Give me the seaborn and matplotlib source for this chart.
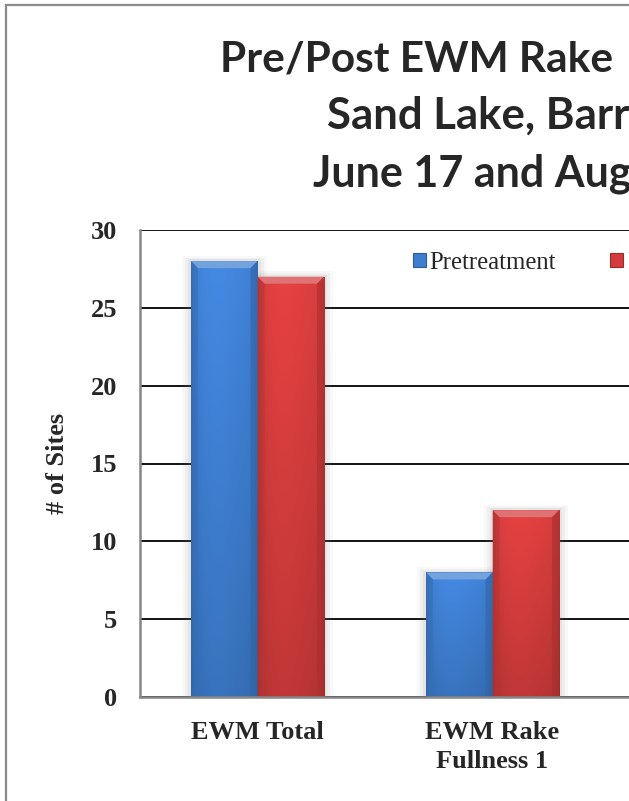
import numpy as np
import pandas as pd
import matplotlib
matplotlib.use("Agg")
import matplotlib.pyplot as plt
from matplotlib.patches import Rectangle, Polygon, Patch
import seaborn as sns

# ---- data -------------------------------------------------------------
categories = ["EWM Total", "EWM Rake\nFullness 1"]
series_names = ["Pretreatment", "Posttreatment"]
pretreatment = [28, 8]
posttreatment = [27, 12]
y_ticks = [0, 5, 10, 15, 20, 25, 30]
title_lines = ["Pre/Post EWM Rake", "Sand Lake, Barron", "June 17 and August"]

# ---- style ------------------------------------------------------------
W, H = 629, 801
BLUE = "#3E7ED0"
RED = "#D33C3C"
AXIS_GRAY = "#868686"

sns.set_style("white")
plt.rcParams["font.family"] = ["Liberation Serif", "DejaVu Serif"]


def fx(x):
    return x / W


def fy(y):
    return 1 - y / H


fig = plt.figure(figsize=(W / 100, H / 100), dpi=100)
fig.patch.set_facecolor("white")

# plot area: left edge at x=140px, runs off the right side of the canvas
ax_left, ax_top, ax_bottom = 140, 230, 697
ax = fig.add_axes([fx(ax_left), fy(ax_bottom), (W - ax_left) / W, (ax_bottom - ax_top) / H])

df = pd.DataFrame({
    "category": categories * 2,
    "series": [s for s in series_names for _ in categories],
    "sites": pretreatment + posttreatment,
})

sns.barplot(data=df, x="category", y="sites", hue="series",
            palette=[BLUE, RED], width=0.566, gap=0, saturation=1,
            legend=False, ax=ax, zorder=2, linewidth=0)

px_per_unit_x = 235.0
ax.set_xlim(-0.5, -0.5 + (W - ax_left) / px_per_unit_x)
ax.set_ylim(0, 30)
px_per_unit_y = (ax_bottom - ax_top) / 30.0

bars = list(ax.patches)


def lighten(c, amt):
    c = np.array(c[:3])
    return tuple(c + (1 - c) * amt)


def darken(c, amt):
    c = np.array(c[:3])
    return tuple(c * (1 - amt))


for bar in bars:
    x0, w, h = bar.get_x(), bar.get_width(), bar.get_height()
    base = np.array(bar.get_facecolor()[:3])

    # soft drop shadow around each bar
    for k, a in zip([9, 6, 3], [0.05, 0.07, 0.09]):
        dx = k / px_per_unit_x
        dy = k / px_per_unit_y
        ax.add_patch(Rectangle((x0 - dx, 0), w + 2 * dx, h + dy * 0.6,
                               facecolor="#808080", alpha=a, lw=0, zorder=1.5))

    # shaded body
    u = np.linspace(0, 1, 80)
    v = np.linspace(0, 1, 160)[:, None]
    horiz = (1.0 - 0.20 * np.exp(-u / 0.05) - 0.16 * np.exp(-(1 - u) / 0.05)
             + 0.05 * np.exp(-((u - 0.4) / 0.3) ** 2))
    vert = 1.04 - 0.17 * v
    f = horiz[None, :] * vert
    img = np.clip(base[None, None, :] * f[:, :, None], 0, 1)
    im = ax.imshow(img, extent=(x0, x0 + w, 0, h), origin="upper",
                   aspect="auto", interpolation="bilinear", zorder=3)
    im.set_clip_path(bar)

    # bevelled top edge
    bw = 7 / px_per_unit_x
    bh = 7 / px_per_unit_y
    top = h
    ax.add_patch(Polygon([(x0, top), (x0 + w, top), (x0 + w - bw, top - bh),
                          (x0 + bw, top - bh)], closed=True,
                         facecolor=lighten(base, 0.28), lw=0, zorder=4))
    ax.add_patch(Polygon([(x0, top), (x0 + bw, top - bh), (x0 + bw, 0), (x0, 0)],
                         closed=True, facecolor=darken(base, 0.12), lw=0, zorder=4, alpha=0.6))
    ax.add_patch(Polygon([(x0 + w, top), (x0 + w - bw, top - bh), (x0 + w - bw, 0), (x0 + w, 0)],
                         closed=True, facecolor=darken(base, 0.2), lw=0, zorder=4, alpha=0.6))

ax.set_xlim(-0.5, -0.5 + (W - ax_left) / px_per_unit_x)
ax.set_ylim(0, 30)

# grid and axes
ax.set_yticks(y_ticks)
ax.yaxis.grid(True, color="black", linewidth=1.3, zorder=0)
ax.xaxis.grid(False)
ax.set_axisbelow(True)
for side in ["top", "right"]:
    ax.spines[side].set_visible(False)
for side in ["left", "bottom"]:
    ax.spines[side].set_color(AXIS_GRAY)
    ax.spines[side].set_linewidth(1.8)
    ax.spines[side].set_zorder(5)

ax.tick_params(axis="y", length=8 * 0.72, width=1.5, color=AXIS_GRAY,
               direction="out", pad=15 * 0.72, labelsize=19)
ax.tick_params(axis="x", length=0, pad=17, labelsize=19)
for lab in ax.get_yticklabels() + ax.get_xticklabels():
    lab.set_fontweight("bold")
for lab in ax.get_xticklabels():
    lab.set_linespacing(1.35)

ax.set_xlabel("")
ax.set_ylabel("# of Sites", fontsize=19, fontweight="bold", va="center")
ax.yaxis.set_label_coords((57 - ax_left) / (W - ax_left), 0.5)

# legend across the top of the plot
handles = [Patch(facecolor=BLUE, edgecolor="#2C5C9C", lw=0.8),
           Patch(facecolor=RED, edgecolor="#9C2C2C", lw=0.8)]
ax.legend(handles, series_names, ncol=2, frameon=False, loc="center left",
          bbox_to_anchor=(fx(413), fy(263)), bbox_transform=fig.transFigure,
          borderpad=0, borderaxespad=0, handlelength=0.52, handleheight=0.52,
          handletextpad=0.15, columnspacing=2.2,
          prop={"family": "Liberation Serif", "size": 17.8})

# heading, three lines
title_x = [220, 327, 313]
title_base = [71, 129, 187]
title_size = [30.5, 31.5, 31]
for txt, x, y, s in zip(title_lines, title_x, title_base, title_size):
    fig.text(fx(x), fy(y), txt, ha="left", va="baseline",
             fontsize=s, fontweight="bold", family=["Lato", "DejaVu Sans"])

# chart-area border
fig.patches.append(Rectangle((fx(6), fy(H + 50)), 2.0, fy(5) - fy(H + 50),
                             transform=fig.transFigure, fill=False,
                             edgecolor="#8C8C8C", linewidth=1.6))

fig.savefig("out.png", dpi=100)
